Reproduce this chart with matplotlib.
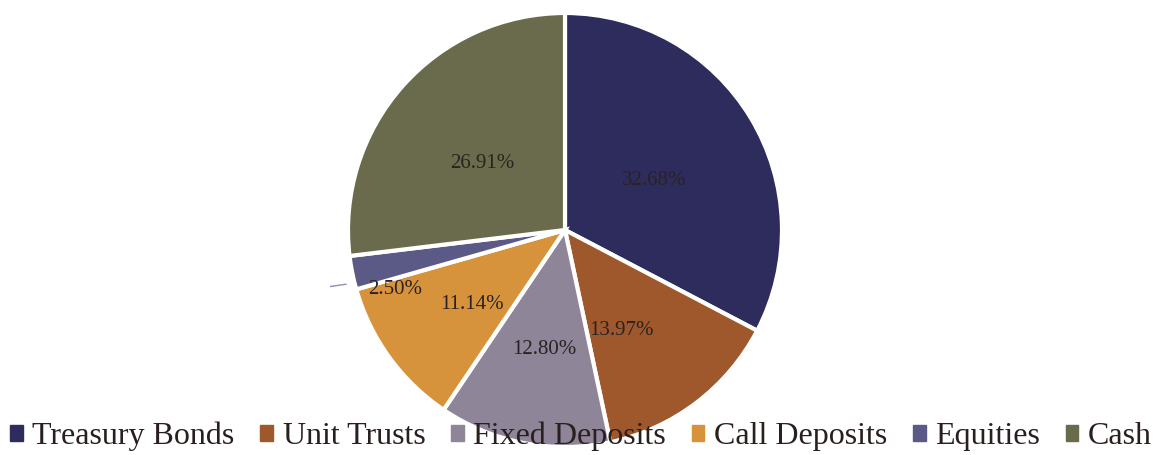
import numpy as np
import matplotlib
matplotlib.use('Agg')
import matplotlib.pyplot as plt

categories = ['Treasury Bonds', 'Unit Trusts', 'Fixed Deposits',
              'Call Deposits', 'Equities', 'Cash']
shares = [32.68, 13.97, 12.80, 11.14, 2.50, 26.91]
colors = ['#2e2c5c', '#9e582c', '#8f8598', '#d7933c', '#5b5a86', '#6a6a4c']

plt.rcParams['font.family'] = ['Liberation Serif', 'DejaVu Serif']

fig = plt.figure(figsize=(11.62, 4.55), dpi=100)
cx, cy, r = 565, 230, 217
ax = fig.add_axes([(cx - r) / 1162, (455 - cy - r) / 455, 2 * r / 1162, 2 * r / 455])

wedges, _ = ax.pie(shares, colors=colors, startangle=90, counterclock=False,
                   wedgeprops=dict(edgecolor='white', linewidth=3))
ax.set_xlim(-1, 1)
ax.set_ylim(-1, 1)
ax.set_aspect('equal')

# label placement: distance (fraction of radius) and angle nudge (deg)
label_r = [0.47, 0.53, 0.56, 0.55, 0.83, 0.49]
label_nudge = [-2, -8, 1, 3, 8, 3]
for w, v, lr, dn in zip(wedges, shares, label_r, label_nudge):
    ang = np.deg2rad((w.theta1 + w.theta2) / 2 + dn)
    ax.text(lr * np.cos(ang), lr * np.sin(ang), '{:.2f}%'.format(v),
            ha='center', va='center', fontsize=15, color='#2a2222')

# small leader mark next to the Equities label
ax.plot([-1.08, -1.01], [-0.26, -0.25], color='#8a90b0', lw=1, clip_on=False)

handles = [plt.Rectangle((0, 0), 1, 1, color=c) for c in colors]
fig.legend(handles, categories, loc='lower center', ncol=6,
           bbox_to_anchor=(0.5, -0.055), frameon=False, fontsize=23,
           handlelength=0.4, handleheight=0.4, handletextpad=0.3,
           columnspacing=0.8, labelcolor='#2a1f1f')

fig.savefig('out.png', dpi=100)
